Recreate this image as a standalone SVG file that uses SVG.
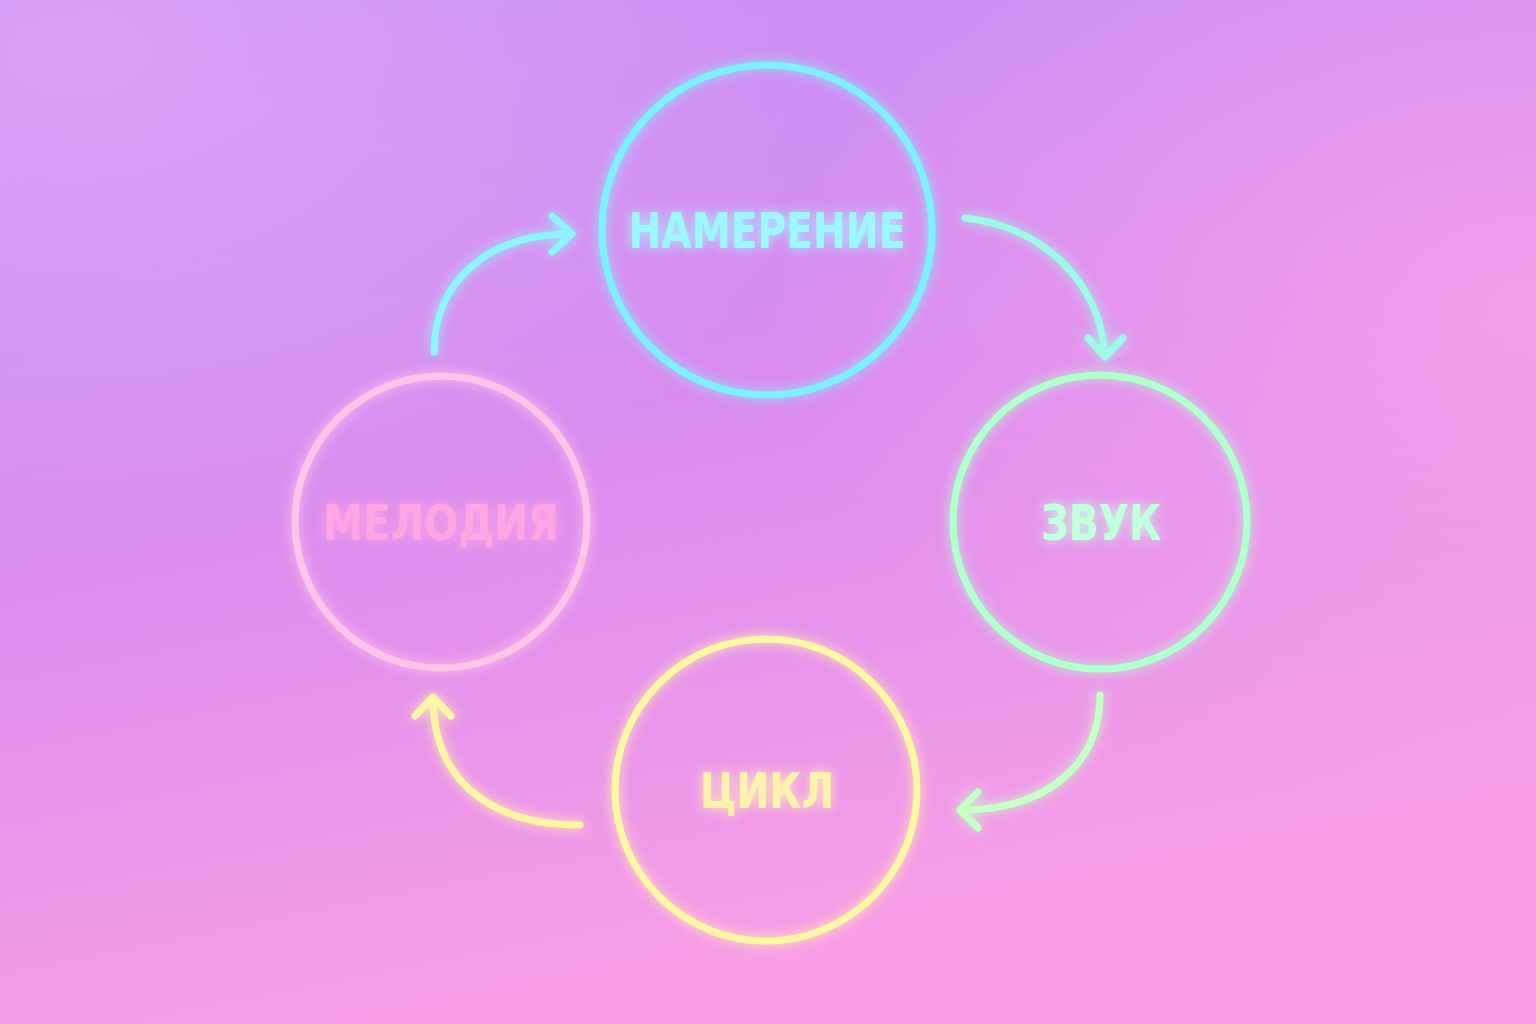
<svg xmlns="http://www.w3.org/2000/svg" width="1536" height="1024" viewBox="0 0 1536 1024">
<defs>
<linearGradient id="bg" x1="0" y1="0" x2="0.3" y2="1">
<stop offset="0" stop-color="#c590f6"/>
<stop offset="0.5" stop-color="#da8cef"/>
<stop offset="1" stop-color="#f89ee6"/>
</linearGradient>
<radialGradient id="bg2" cx="0.05" cy="0.05" r="0.5">
<stop offset="0" stop-color="#e2a8f4" stop-opacity="0.7"/>
<stop offset="1" stop-color="#e2a8f4" stop-opacity="0"/>
</radialGradient>
<radialGradient id="bg3" cx="1" cy="0.3" r="0.5">
<stop offset="0" stop-color="#f6a2ec" stop-opacity="0.8"/>
<stop offset="1" stop-color="#f6a2ec" stop-opacity="0"/>
</radialGradient>
<filter id="glow" x="-30%" y="-30%" width="160%" height="160%">
<feGaussianBlur stdDeviation="6" result="b"/>
<feMerge><feMergeNode in="b"/><feMergeNode in="SourceGraphic"/></feMerge>
</filter>
</defs>
<style>
.ring{fill:none;stroke-width:7;filter:url(#glow)}
.con{fill:none;stroke-width:7;stroke-linecap:round;stroke-linejoin:round;filter:url(#glow)}
.lbl{font-family:"DejaVu Sans Condensed","DejaVu Sans",sans-serif;font-weight:bold;font-size:50px;text-anchor:middle;filter:url(#glow)}
</style>
<rect width="1536" height="1024" fill="url(#bg)"/>
<rect width="1536" height="1024" fill="url(#bg2)"/>
<rect width="1536" height="1024" fill="url(#bg3)"/>
<g id="n1"><circle class="ring" cx="767" cy="230" r="165" stroke="#80f0ff" fill="#a8a0f0" fill-opacity="0.25"/><text class="lbl" x="767" y="248" fill="#a0f6ff" textLength="277" lengthAdjust="spacingAndGlyphs">НАМЕРЕНИЕ</text></g>
<g id="n2"><circle class="ring" cx="1100" cy="522" r="147" stroke="#b4ffd0"/><text class="lbl" x="1101" y="540" fill="#c4ffe0" textLength="120" lengthAdjust="spacingAndGlyphs">ЗВУК</text></g>
<g id="n3"><circle class="ring" cx="766" cy="790" r="151" stroke="#fff6a8"/><text class="lbl" x="767" y="808" fill="#fff2b0" textLength="134" lengthAdjust="spacingAndGlyphs">ЦИКЛ</text></g>
<g id="n4"><circle class="ring" cx="441" cy="522" r="146" stroke="#ffc4ea"/><text class="lbl" x="441" y="540" fill="#ffa4e4" textLength="236" lengthAdjust="spacingAndGlyphs">МЕЛОДИЯ</text></g>
<g id="connectors">
<path class="con" stroke="#90f4ff" d="M434,352 C434,280 490,234 570,234 M552,216 L572,234 L552,252"/>
<path class="con" stroke="#a0f8e8" d="M965,218 C1040,226 1100,280 1105,355 M1088,338 L1105,357 L1123,338"/>
<path class="con" stroke="#c8ffc8" d="M1100,695 C1100,770 1040,810 962,810 M978,792 L960,810 L978,828"/>
<path class="con" stroke="#fff4a8" d="M580,825 C490,825 433,780 433,698 M415,716 L433,697 L451,716"/>
</g>
</svg>
